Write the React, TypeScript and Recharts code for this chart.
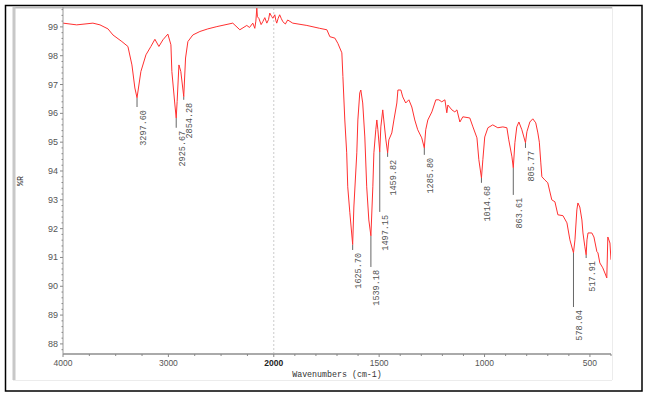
import React from 'react';
import { ComposedChart, Line, XAxis, YAxis, ReferenceLine } from 'recharts';

// ---- data ----
const wavenumbers = [
  4000, 3870, 3716, 3649, 3573, 3526, 3441, 3384, 3346, 3318, 3297.6, 3261, 3213, 3166, 3128, 3090, 3052, 3005,
  2976, 2967, 2938, 2925.7, 2917, 2900, 2882, 2854.3, 2837, 2815, 2768, 2701, 2626, 2540, 2389, 2322, 2256, 2230, 2199,
  2180, 2170, 2161, 2155, 2142, 2120, 2104, 2085, 2066, 2050, 2038, 2020, 2009, 1995, 1990, 1986, 1979, 1972, 1965, 1957, 1945, 1934, 1910, 1843, 1782, 1748, 1734, 1710,
  1696, 1677, 1672, 1663, 1654, 1649, 1639, 1625.7, 1620, 1606, 1601, 1592, 1587, 1578, 1568, 1559, 1549, 1539.2,
  1530, 1525, 1516, 1511, 1506, 1497.2, 1492, 1483, 1478, 1468, 1459.8, 1454, 1440, 1430, 1416, 1411, 1397, 1388,
  1374, 1359, 1345, 1331, 1317, 1298, 1285.8, 1279, 1269, 1250, 1231, 1226, 1217, 1203, 1188, 1179, 1174, 1155,
  1141, 1131, 1117, 1103, 1070, 1055, 1036, 1027, 1014.7, 1008, 999, 984, 961, 937, 913, 894, 885, 870, 863.6,
  856, 847, 837, 823, 805.8, 799, 785, 771, 757, 747, 740, 733, 728, 714, 700, 681, 666, 652, 628, 609, 595, 578,
  571, 562, 557, 548, 538, 533, 524, 517.9, 514, 509, 491, 481, 467, 462, 453, 439, 429, 420, 415, 405, 400,
];
const reflectance = [
  99.13, 99.07, 99.13, 99.07, 98.93, 98.72, 98.49, 98.32, 97.68, 96.88, 96.54, 97.45, 98.03, 98.32, 98.57, 98.32, 98.55, 98.75,
  98.38, 97.45, 96.29, 95.84, 96.41, 97.68, 97.45, 96.58, 97.92, 98.49, 98.72, 98.84, 98.93, 99.01, 99.13, 98.9, 99.05, 98.98, 99.13,
  98.95, 99.2, 99.65, 99.35, 99.3, 99.08, 99.18, 99.32, 99.13, 99.25, 99.48, 99.36, 99.3, 99.42, 99.22, 99.13, 99.3, 99.42, 99.3, 99.18, 99.1, 99.24, 99.13, 99.05, 98.95, 98.9, 98.66, 98.61,
  98.43, 98.1, 97.28, 95.77, 94.63, 93.45, 92.55, 91.45, 92.75, 94.63, 95.77, 96.71, 96.81, 96.36, 95.18, 93.45, 92.3, 91.75,
  93.45, 94.63, 95.43, 95.77, 95.43, 94.66, 95.53, 96.12, 95.77, 95.08, 94.63, 95.08, 95.32, 95.77, 96.36, 96.81, 96.81, 96.57,
  96.36, 96.47, 96.22, 95.77, 95.43, 95.15, 94.8, 95.43, 95.77, 96.05, 96.47, 96.47, 96.47, 96.4, 96.47, 96.02, 96.29, 96.12,
  96.05, 96.12, 95.7, 95.88, 95.84, 95.53, 95.15, 94.39, 93.76, 94.39, 95.18, 95.5, 95.6, 95.5, 95.53, 95.5, 95.08, 94.49, 94.11,
  94.98, 95.53, 95.7, 95.43, 94.98, 95.36, 95.7, 95.81, 95.67, 95.32, 95.0, 94.28, 93.8, 93.69, 93.59, 93.0, 92.93, 92.48, 92.45, 92.2, 91.61, 91.16,
  91.61, 92.65, 92.89, 92.75, 92.3, 91.85, 91.37, 91.09, 91.61, 91.85, 91.85, 91.71, 91.2, 91.16, 90.81, 90.64, 90.46, 90.29, 91.71, 91.5, 90.92,
];

const peakWavenumbers = [3297.6, 2925.67, 2854.28, 1625.7, 1539.18, 1497.15, 1459.82, 1285.8, 1014.68, 863.61, 805.77, 578.04, 517.91];
const peakLabels = ['3297.60', '2925.67', '2854.28', '1625.70', '1539.18', '1497.15', '1459.82', '1285.80', '1014.68', '863.61', '805.77', '578.04', '517.91'];
const peakTop = [96.54, 95.84, 96.58, 91.45, 91.75, 94.66, 94.63, 94.8, 93.76, 94.11, 94.98, 91.16, 91.09];
const peakLineEnd = [96.22, 95.5, 96.47, 91.26, 90.67, 92.58, 94.49, 94.56, 93.59, 93.17, 94.8, 89.28, 90.98];

const xMajorLabels = [4000, 3000, 2000, 1500, 1000, 500];
const xMinorLabels = [3750, 3500, 3250, 2750, 2500, 2250, 1900, 1800, 1700, 1600, 1400, 1300, 1200, 1100, 900, 800, 700, 600, 400];

// ---- piecewise axis (scale doubles below 2000 cm-1) ----
const toPos = (w: number) => (w >= 2000 ? 4000 - w : 2000 + 2 * (2000 - w));
const toWave = (p: number) => (p <= 2000 ? 4000 - p : 2000 - (p - 2000) / 2);

const data = wavenumbers.map((w, i) => ({ pos: toPos(w), t: reflectance[i] }));
const majorPos = xMajorLabels.map(toPos);
const xTicks = [...xMajorLabels, ...xMinorLabels].map(toPos).sort((a, b) => a - b);

const yTicks: number[] = [];
for (let k = 439; k <= 498; k++) yTicks.push(Math.round(k * 2) / 10);

const MONO = '"Liberation Mono", "DejaVu Sans Mono", monospace';
const SANS = '"Liberation Sans", Arial, sans-serif';

const XTick = (props: any) => {
  const { x, y, payload } = props;
  const v = payload.value;
  const major = majorPos.some((m) => Math.abs(m - v) < 1e-6);
  const w = Math.round(toWave(v));
  return (
    <g>
      <line x1={x} x2={x} y1={y} y2={y + (major ? 3 : 2)} stroke="#888" strokeWidth={1} />
      {major && (
        <text x={x} y={y + 12} textAnchor="middle" fontSize={8.5} fontFamily={SANS} fill={w === 2000 ? '#222' : '#555'} fontWeight={w === 2000 ? 'bold' : 'normal'}>
          {w}
        </text>
      )}
    </g>
  );
};

const YTick = (props: any) => {
  const { x, y, payload } = props;
  const v = payload.value;
  const major = Math.abs(v - Math.round(v)) < 1e-6;
  return (
    <g>
      <line x1={x} x2={x - (major ? 3 : 1.5)} y1={y} y2={y} stroke="#888" strokeWidth={1} />
      {major && (
        <text x={x - 5} y={y + 3} textAnchor="end" fontSize={9} fontFamily={SANS} fill="#555">
          {Math.round(v)}
        </text>
      )}
    </g>
  );
};

const makePeakLabel = (text: string) => (props: any) => {
  const vb = props.viewBox || {};
  const lx = vb.x ?? 0;
  const bottom = (vb.y ?? 0) + (vb.height ?? 0);
  const ax = lx + 8.5;
  const ay = bottom + 3;
  return (
    <text x={ax} y={ay} transform={`rotate(-90 ${ax} ${ay})`} textAnchor="end" fontSize={8.5} fontFamily={MONO} fill="#555">
      {text}
    </text>
  );
};

export default function App() {
  return (
    <div style={{ position: 'absolute', left: 0, top: 0, width: 653, height: 399, background: '#fff' }}>
      <svg width={653} height={399} style={{ position: 'absolute', left: 0, top: 0 }}>
        <rect x={5.5} y={5.5} width={636.5} height={385.5} fill="none" stroke="#000" strokeWidth={1.5} />
        <line x1={13} x2={612} y1={7.5} y2={7.5} stroke="#bbb" strokeWidth={2} />
        <line x1={14} x2={14} y1={7} y2={380} stroke="#c8c8c8" strokeWidth={3} />
        <line x1={612.5} x2={612.5} y1={7} y2={380} stroke="#ececec" strokeWidth={1} />
        <line x1={13} x2={612} y1={380.5} y2={380.5} stroke="#ececec" strokeWidth={1} />
        <text x={337} y={377} textAnchor="middle" fontSize={8.3} fontFamily={MONO} fill="#333">
          Wavenumbers (cm-1)
        </text>
        <text x={23} y={181} transform="rotate(-90 23 181)" textAnchor="middle" fontSize={8.3} fontFamily={MONO} fill="#333">
          %R
        </text>
      </svg>
      <div style={{ position: 'absolute', left: 0, top: 0 }}>
        <ComposedChart width={653} height={399} data={data} margin={{ top: 7, right: 42, bottom: 15, left: 3 }}>
          <XAxis
            type="number"
            dataKey="pos"
            domain={[0, 5200]}
            ticks={xTicks}
            interval={0}
            tick={<XTick />}
            tickLine={false}
            tickSize={0}
            tickMargin={0}
            height={30}
            axisLine={{ stroke: '#aaa', strokeWidth: 2 }}
            allowDataOverflow
          />
          <YAxis
            type="number"
            domain={[87.65, 99.69]}
            ticks={yTicks}
            interval={0}
            tick={<YTick />}
            tickLine={false}
            tickSize={0}
            tickMargin={0}
            width={60}
            axisLine={{ stroke: '#999', strokeWidth: 1 }}
            allowDataOverflow
          />
          <ReferenceLine x={2000} stroke="#ccc" strokeDasharray="2 2" />
          {peakWavenumbers.map((w, i) => (
            <ReferenceLine
              key={peakLabels[i]}
              segment={[
                { x: toPos(w), y: peakTop[i] },
                { x: toPos(w), y: peakLineEnd[i] },
              ]}
              stroke="#666"
              strokeWidth={1}
              label={makePeakLabel(peakLabels[i])}
            />
          ))}
          <Line type="linear" dataKey="t" stroke="#ff3030" strokeWidth={1} dot={false} isAnimationActive={false} />
        </ComposedChart>
      </div>
    </div>
  );
}
